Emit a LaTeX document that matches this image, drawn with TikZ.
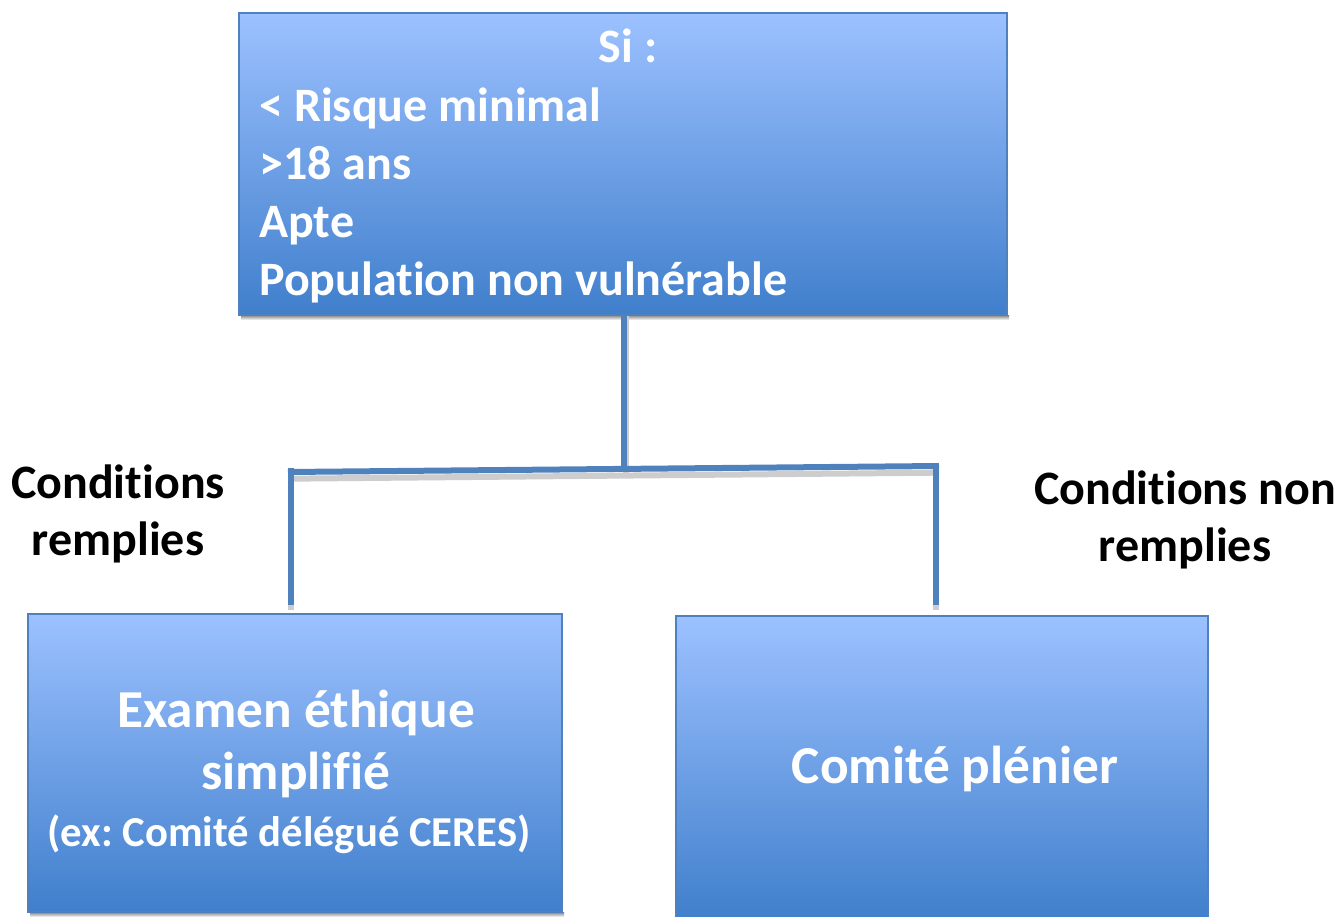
\documentclass[tikz,border=0pt]{standalone}
\usepackage{fontspec}
\setmainfont{Carlito}[RawFeature=-liga]
\frenchspacing
\definecolor{boxtop}{RGB}{156,193,255}
\definecolor{boxbot}{RGB}{64,127,204}
\definecolor{edge}{RGB}{79,129,189}
\definecolor{shade}{RGB}{205,205,205}
\tikzset{
  grad/.style={rectangle, draw=edge, line width=1.2pt, top color=boxtop, bottom color=boxbot, inner sep=0pt},
  conn/.style={draw=edge, line width=4.5pt},
  connsh/.style={draw=shade, line width=4.5pt},
  wtxt/.style={text=white, font=\fontsize{36}{43}\selectfont\bfseries, inner sep=0pt, anchor=base west},
  btxt/.style={text=black, font=\fontsize{36}{43}\selectfont\bfseries, align=center, inner sep=0pt},
  bigw/.style={text=white, font=\fontsize{40}{47}\selectfont\bfseries, align=center, inner sep=0pt},
}
\begin{document}
\begin{tikzpicture}[x=0.75pt,y=-0.75pt]
\useasboundingbox (0,0) rectangle (1340,917);
% shadows of boxes
\fill[shade] (241,315) rectangle (1009,320);
\fill[shade] (30,912) rectangle (564,917);
% boxes
\node[grad, minimum width=576pt, minimum height=226.5pt] (top) at (623,164) {};
\node[grad, minimum width=400.5pt, minimum height=223.5pt] (left) at (295,763) {};
\node[grad, minimum width=399pt, minimum height=228pt] (right) at (942,768) {};
% top text
\node[wtxt, anchor=base] (si) at (628,63) {Si :};
\node[wtxt] (l1) at (259,122) {< Risque minimal};
\node[wtxt] (l2) at (259,180) {>18 ans};
\node[wtxt] (l3) at (259,237) {Apte};
\node[wtxt] (l4) at (259,295) {Population non vulnérable};
% bottom texts
\node[bigw] (lt) at (296,744) {Examen éthique\\simplifié};
\node[text=white, font=\fontsize{32}{38}\selectfont\bfseries, inner sep=0pt] (lt2) at (289,834) {(ex: Comité délégué CERES)};
\node[bigw] (rt) at (955,769) {Comité plénier};
% side labels
\node[btxt] (cl) at (118,514) {Conditions\\remplies};
\node[btxt] (cr) at (1185,520) {Conditions non\\remplies};
% connector coordinates
\coordinate (j) at (624,470);
\coordinate (jl) at (288,472);
\coordinate (jr) at (939,466);
\coordinate (el) at (291,605);
\coordinate (er) at (936,605);
% connector shadows
\draw[connsh] ([xshift=1.5pt]top.south -| j) -- ([xshift=1.5pt,yshift=-3pt]j);
\draw[connsh] ([xshift=3pt,yshift=-5pt]jl) -- ([yshift=-5pt]jr);
\draw[connsh] ([yshift=-4pt]jl -| el) -- ([yshift=-4pt]el);
\draw[connsh] ([yshift=-4pt]jr -| er) -- ([yshift=-4pt]er);
% connectors
\draw[conn] (top.south -| j) -- (j);
\draw[conn] (jl) -- (jr);
\draw[conn] ([yshift=3pt]jl -| el) -- (el);
\draw[conn] (jr -| er) -- (er);
\end{tikzpicture}
\end{document}
